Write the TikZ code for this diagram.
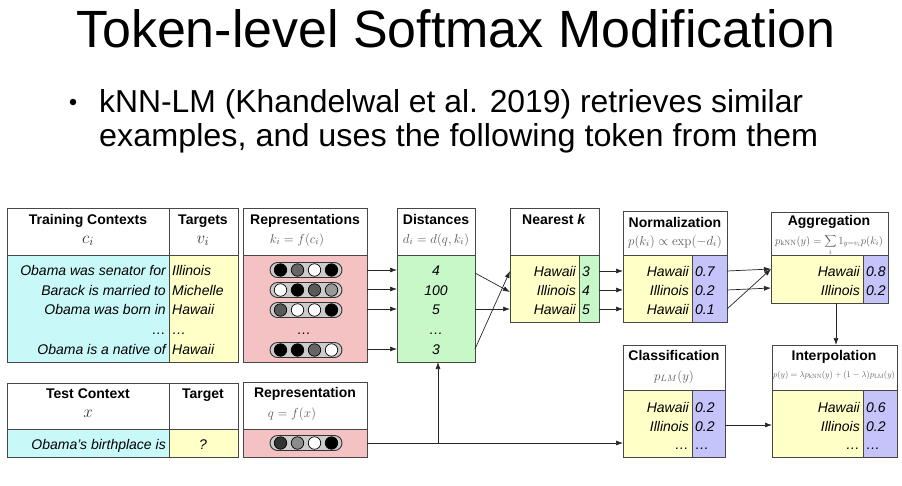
\RequirePackage{fix-cm}
\documentclass[tikz,border=0pt]{standalone}
\usepackage[no-math]{fontspec}
\setmainfont{Liberation Sans}
\usepackage{graphicx}
\usetikzlibrary{arrows.meta,calc}
\definecolor{cyanbg}{RGB}{200,248,248}
\definecolor{yelbg}{RGB}{255,255,200}
\definecolor{pinkbg}{RGB}{244,194,194}
\definecolor{greenbg}{RGB}{200,248,200}
\definecolor{purpbg}{RGB}{196,196,250}
\definecolor{pillbg}{RGB}{204,204,204}
\newcommand\kvec[6]{%
  \node[pill] (#1) at (306,#2) {};
  \node[dot, fill=#3] (#1a) at ([xshift=-25.5pt]#1.center) {};
  \node[dot, fill=#4] (#1b) at ([xshift=-8.5pt]#1.center) {};
  \node[dot, fill=#5] (#1c) at ([xshift=8.5pt]#1.center) {};
  \node[dot, fill=#6] (#1d) at ([xshift=25.5pt]#1.center) {};
}
\begin{document}
\begin{tikzpicture}[x=1pt,y=-1pt,
  cell/.style={draw=black!72, line width=0.7pt, anchor=north west, inner sep=0pt, outer sep=0pt},
  hdr/.style={font=\fontsize{14}{16}\selectfont\bfseries, anchor=base, inner sep=0pt},
  frm/.style={text=black!65, anchor=base, inner sep=0pt, font=\fontsize{13}{15}\selectfont},
  itx/.style={font=\fontsize{14}{16}\selectfont\itshape, inner sep=0pt},
  rl/.style={itx, anchor=base east},
  ll/.style={itx, anchor=base west},
  cc/.style={itx, anchor=base},
  arr/.style={-{Latex[length=7pt,width=5pt]}, line width=0.7pt, draw=black!85},
  pill/.style={draw=black!80, fill=pillbg, rounded corners=7.5pt, minimum width=72pt, minimum height=15pt, inner sep=0pt, line width=0.9pt},
  dot/.style={circle, draw=black, line width=0.7pt, minimum size=12.5pt, inner sep=0pt}]
\useasboundingbox (0,0) rectangle (902,485);
\fill[white] (0,0) rectangle (902,485);

% ---------- title and bullet ----------
\node[anchor=base west, inner sep=0pt] (title) at (76,47) {\resizebox{759pt}{38pt}{Token-level Softmax Modification}};
\node[circle, fill=black, inner sep=0pt, minimum size=6.5pt] (bul) at (73,102) {};
\node[anchor=base west, inner sep=0pt] (bl1) at (99,112) {\resizebox{704pt}{23pt}{kNN-LM (Khandelwal et al. 2019) retrieves similar}};
\node[anchor=base west, inner sep=0pt] (bl2) at (99,146) {\resizebox{719pt}{23pt}{examples, and uses the following token from them}};

% ---------- row coordinates ----------
\coordinate (r1) at (0,270);
\coordinate (r2) at (0,289);
\coordinate (r3) at (0,309);
\coordinate (r4) at (0,330);
\coordinate (r5) at (0,349);

% ---------- training contexts ----------
\node[cell, fill=white, minimum width=162pt, minimum height=47pt] (trhA) at (7,208) {};
\node[cell, fill=white, minimum width=69pt, minimum height=47pt] (trhB) at (169,208) {};
\node[cell, fill=cyanbg, minimum width=162pt, minimum height=107pt] (trbA) at (7,255) {};
\node[cell, fill=yelbg, minimum width=69pt, minimum height=107pt] (trbB) at (169,255) {};
\node[hdr] (tTC) at (88,224) {Training Contexts};
\node[frm, text=black!80, font=\fontsize{17}{19}\selectfont] (tci) at (88,243) {$c_i$};
\node[hdr] (tTg) at (203,224) {Targets};
\node[frm, text=black!80, font=\fontsize{17}{19}\selectfont] (tvi) at (203,243) {$v_i$};
\node[rl] (c1) at (166,275) {Obama was senator for};
\node[rl] (c2) at (166,295) {Barack is married to};
\node[rl] (c3) at (166,314) {Obama was born in};
\node[rl] (c4) at (166,334) {\dots};
\node[rl] (c5) at (166,354) {Obama is a native of};
\node[ll] (v1) at (172,275) {Illinois};
\node[ll] (v2) at (172,295) {Michelle};
\node[ll] (v3) at (172,314) {Hawaii};
\node[ll] (v4) at (172,334) {\dots};
\node[ll] (v5) at (172,354) {Hawaii};

% ---------- representations ----------
\node[cell, fill=white, minimum width=124pt, minimum height=47pt] (rph) at (243,208) {};
\node[cell, fill=pinkbg, minimum width=124pt, minimum height=107pt] (rpb) at (243,255) {};
\node[hdr] (tRp) at (305,224) {Representations};
\node[frm] (tki) at (297,243) {$k_i = f(c_i)$};
\kvec{p1}{270}{black}{black!60}{white}{black}
\kvec{p2}{290}{white}{black}{black!65}{black!40}
\kvec{p3}{310}{black!65}{white}{white}{black}
\node[cc] (p4) at (304,334) {\dots};
\kvec{p5}{350}{black}{black}{black!60}{white}

% ---------- distances ----------
\node[cell, fill=white, minimum width=78pt, minimum height=47pt] (dsh) at (397,208) {};
\node[cell, fill=greenbg, minimum width=78pt, minimum height=107pt] (dsb) at (397,255) {};
\node[hdr] (tDs) at (436,224) {Distances};
\node[frm] (tdi) at (436,243) {$d_i = d(q, k_i)$};
\node[cc] (d1) at (436,275) {4};
\node[cc] (d2) at (436,295) {100};
\node[cc] (d3) at (436,314) {5};
\node[cc] (d4) at (436,334) {\dots};
\node[cc] (d5) at (436,354) {3};

\draw[arr] (rpb.east |- r1) -- (dsb.west |- r1);
\draw[arr] (rpb.east |- r2) -- (dsb.west |- r2);
\draw[arr] (rpb.east |- r3) -- (dsb.west |- r3);
\draw[arr] (rpb.east |- r5) -- (dsb.west |- r5);

% ---------- nearest k ----------
\coordinate (n1) at (0,271);
\coordinate (n2) at (0,290);
\coordinate (n3) at (0,309);
\node[cell, fill=white, minimum width=89pt, minimum height=47pt] (nkh) at (510,208) {};
\node[cell, fill=yelbg, minimum width=69pt, minimum height=67pt] (nkbA) at (510,255) {};
\node[cell, fill=greenbg, minimum width=20pt, minimum height=67pt] (nkbB) at (579,255) {};
\node[hdr] (tNk) at (554,224) {Nearest \textit{k}};
\node[rl] (nw1) at (576,276) {Hawaii};
\node[rl] (nw2) at (576,295) {Illinois};
\node[rl] (nw3) at (576,314) {Hawaii};
\node[ll] (nd1) at (582,276) {3};
\node[ll] (nd2) at (582,295) {4};
\node[ll] (nd3) at (582,314) {5};

\draw[arr] ([yshift=-3pt]dsb.east |- r1) -- ([yshift=-2pt]nkbA.west |- n2);
\draw[arr] (dsb.east |- r3) -- (nkbA.west |- n3);
\draw[arr] (dsb.east |- r5) -- (nkbA.west |- n1);

% ---------- normalization ----------
\node[cell, fill=white, minimum width=104pt, minimum height=44pt] (nmh) at (623,211) {};
\node[cell, fill=yelbg, minimum width=69pt, minimum height=67pt] (nmbA) at (623,255) {};
\node[cell, fill=purpbg, minimum width=35pt, minimum height=67pt] (nmbB) at (692,255) {};
\node[hdr] (tNm) at (675,227) {Normalization};
\node[frm] (tpk) at (675,245) {$p(k_i) \propto \exp(-d_i)$};
\node[rl] (mw1) at (689,276) {Hawaii};
\node[rl] (mw2) at (689,295) {Illinois};
\node[rl] (mw3) at (689,314) {Hawaii};
\node[ll] (mv1) at (695,276) {0.7};
\node[ll] (mv2) at (695,295) {0.2};
\node[ll] (mv3) at (695,314) {0.1};

\draw[arr] (nkbB.east |- n1) -- (nmbA.west |- n1);
\draw[arr] (nkbB.east |- n2) -- (nmbA.west |- n2);
\draw[arr] (nkbB.east |- n3) -- (nmbA.west |- n3);

% ---------- aggregation ----------
\coordinate (a1) at (0,269);
\coordinate (a2) at (0,288);
\node[cell, fill=white, minimum width=117pt, minimum height=43pt] (agh) at (771,212) {};
\node[cell, fill=yelbg, minimum width=92pt, minimum height=48pt] (agbA) at (771,255) {};
\node[cell, fill=purpbg, minimum width=25pt, minimum height=48pt] (agbB) at (863,255) {};
\node[hdr] (tAg) at (829,225) {Aggregation};
\node[frm] (tpknn) at (829,244) {\resizebox{108pt}{!}{$\displaystyle p_{\mathrm{kNN}}(y) = \sum_{i} 1_{y=v_i} p(k_i)$}};
\node[rl] (aw1) at (860,276) {Hawaii};
\node[rl] (aw2) at (860,295) {Illinois};
\node[ll] (av1) at (866,276) {0.8};
\node[ll] (av2) at (866,295) {0.2};

\draw[arr] (nmbB.east |- n1) -- (agbA.west |- a1);
\draw[arr] (nmbB.east |- n2) -- (agbA.west |- a2);
\draw[arr] (nmbB.east |- n3) -- (agbA.west |- a1);

% ---------- classification ----------
\coordinate (k1) at (0,407);
\coordinate (k2) at (0,425);
\node[cell, fill=white, minimum width=102pt, minimum height=45pt] (clh) at (623,345) {};
\node[cell, fill=yelbg, minimum width=69pt, minimum height=67pt] (clbA) at (623,390) {};
\node[cell, fill=purpbg, minimum width=33pt, minimum height=67pt] (clbB) at (692,390) {};
\node[hdr] (tCl) at (674,360) {Classification};
\node[frm] (tplm) at (674,380) {$p_{LM}(y)$};
\node[rl] (kw1) at (689,412) {Hawaii};
\node[rl] (kw2) at (689,431) {Illinois};
\node[rl] (kw3) at (689,449) {\dots};
\node[ll] (kv1) at (695,412) {0.2};
\node[ll] (kv2) at (695,431) {0.2};
\node[ll] (kv3) at (695,449) {\dots};

% ---------- interpolation ----------
\node[cell, fill=white, minimum width=125pt, minimum height=45pt] (iph) at (772,345) {};
\node[cell, fill=yelbg, minimum width=91pt, minimum height=67pt] (ipbA) at (772,390) {};
\node[cell, fill=purpbg, minimum width=34pt, minimum height=67pt] (ipbB) at (863,390) {};
\node[hdr] (tIp) at (834,360) {Interpolation};
\node[frm] (tpy) at (834,377) {\resizebox{122pt}{!}{$p(y) = \lambda p_{\mathrm{kNN}}(y) + (1-\lambda) p_{\mathrm{LM}}(y)$}};
\node[rl] (iw1) at (860,412) {Hawaii};
\node[rl] (iw2) at (860,431) {Illinois};
\node[rl] (iw3) at (860,449) {\dots};
\node[ll] (iv1) at (866,412) {0.6};
\node[ll] (iv2) at (866,431) {0.2};
\node[ll] (iv3) at (866,449) {\dots};

\coordinate (aggx) at (836,0);
\draw[arr] (agbA.south -| aggx) -- (iph.north -| aggx);
\draw[arr] (clbB.east |- k2) -- (ipbA.west |- k2);

% ---------- test context ----------
\node[cell, fill=white, minimum width=162pt, minimum height=46pt] (tchA) at (7,383) {};
\node[cell, fill=white, minimum width=69pt, minimum height=46pt] (tchB) at (169,383) {};
\node[cell, fill=cyanbg, minimum width=162pt, minimum height=28pt] (tcbA) at (7,429) {};
\node[cell, fill=yelbg, minimum width=69pt, minimum height=28pt] (tcbB) at (169,429) {};
\node[hdr] (tTC2) at (88,398) {Test Context};
\node[frm, text=black!80, font=\fontsize{17}{19}\selectfont] (tx) at (88,417) {$x$};
\node[hdr] (tTg2) at (203,398) {Target};
\node[rl] (tq) at (166,449) {Obama's birthplace is};
\node[cc] (tqm) at (203,449) {?};

% ---------- test representation ----------
\node[cell, fill=white, minimum width=124pt, minimum height=47pt] (trh) at (243,382) {};
\node[cell, fill=pinkbg, minimum width=124pt, minimum height=28pt] (trb) at (243,429) {};
\node[hdr] (tRp2) at (305,397) {Representation};
\node[frm] (tqf) at (292,417) {$q = f(x)$};
\kvec{pq}{443}{black!80}{black!45}{white}{black}

\coordinate (jn) at (438,0);
\draw[arr] (trb.east) -| (jn |- dsb.south);
\draw[arr] (trb.east) -- (trb.east -| clbA.west);
\end{tikzpicture}
\end{document}
